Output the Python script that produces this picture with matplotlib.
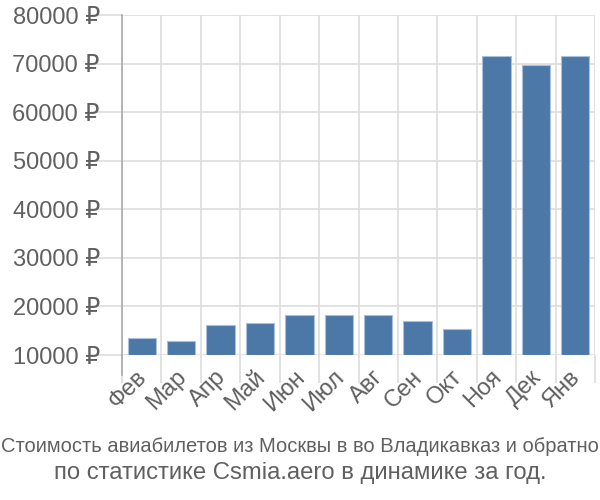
import matplotlib
matplotlib.use("Agg")
import matplotlib.pyplot as plt
import matplotlib.transforms as mtransforms
import numpy as np

months = ["Фев", "Мар", "Апр", "Май", "Июн", "Июл", "Авг", "Сен", "Окт", "Ноя", "Дек", "Янв"]
prices = [13600, 12800, 16200, 16500, 18300, 18300, 18150, 16900, 15350, 71550, 69650, 71550]
yticks = [10000, 20000, 30000, 40000, 50000, 60000, 70000, 80000]
title_lines = ["Стоимость авиабилетов из Москвы в во Владикавказ и обратно",
               "по статистике Csmia.aero в динамике за год."]

plt.rcParams['font.family'] = ['Liberation Sans', 'DejaVu Sans']

fig = plt.figure(figsize=(6, 5), dpi=100)
ax = fig.add_axes([122/600, 1-355/500, (595-122)/600, 340/500])

x = np.arange(len(months))
ax.bar(x, [p - 10000 for p in prices], bottom=10000, width=0.72,
       color='#4c78a8', edgecolor='#a9c0da', linewidth=0.8, zorder=3)

ax.set_xlim(-0.5, len(months) - 0.5)
ax.set_ylim(10000, 80000)
ax.set_yticks(yticks)
ax.set_yticklabels([f"{v} ₽" for v in yticks])
ax.set_xticks(x)
ax.set_xticklabels(months, rotation=45, ha='right', rotation_mode='anchor')
ax.set_xticks(np.arange(-0.5, len(months), 1), minor=True)

grid_c = '#dddddd'
ax.grid(True, axis='y', which='major', color=grid_c, linewidth=1.2, zorder=0)
ax.grid(True, axis='x', which='minor', color=grid_c, linewidth=1.2, zorder=0)
ax.tick_params(axis='y', which='major', length=22, color=grid_c, width=1.2,
               labelsize=17, labelcolor='#606060', pad=-6)
ax.tick_params(axis='x', which='major', length=0, labelsize=17,
               labelcolor='#606060', pad=8)
ax.tick_params(axis='x', which='minor', length=20, color=grid_c, width=1.2)

offset = mtransforms.ScaledTranslation(-6/100, 0, fig.dpi_scale_trans)
for lbl in ax.get_xticklabels():
    lbl.set_transform(lbl.get_transform() + offset)

for s in ['top', 'right', 'bottom']:
    ax.spines[s].set_visible(False)
ax.spines['left'].set_color('#aaaaaa')
ax.spines['left'].set_linewidth(1.2)
ax.plot([0, 0], [0, -20/340], transform=ax.transAxes, color='#aaaaaa',
        linewidth=1.2, clip_on=False, zorder=4)

fig.text(0.5, 1-447/500, title_lines[0], ha='center', va='center', fontsize=14.5,
         color='#606060')
fig.text(0.5, 1-473/500, title_lines[1], ha='center', va='center', fontsize=17.2, color='#606060')

fig.savefig("out.png", dpi=100)
